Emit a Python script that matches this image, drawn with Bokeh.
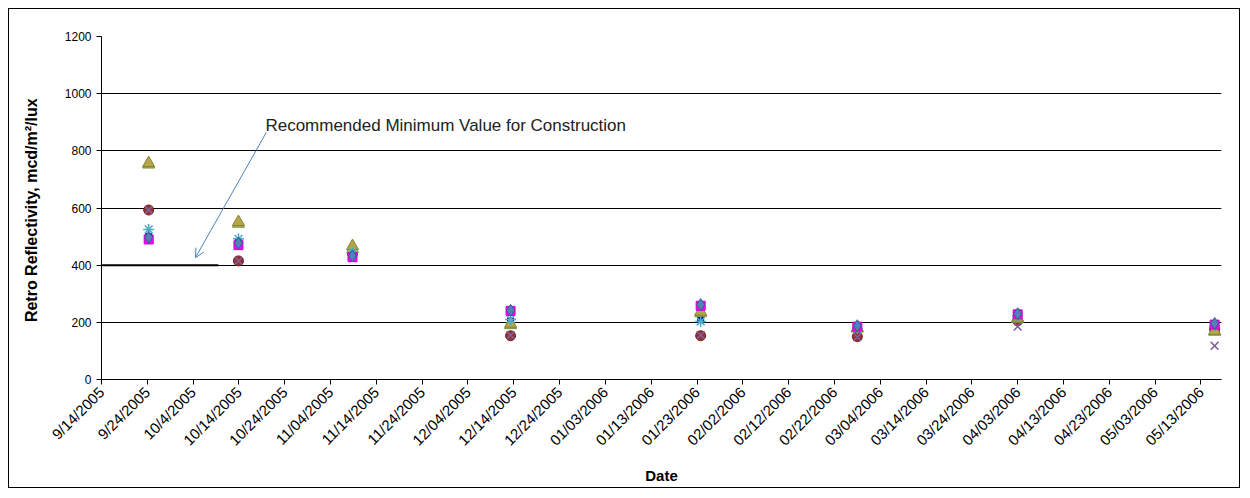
import math
from bokeh.plotting import figure
from bokeh.models import ColumnDataSource, FixedTicker, Arrow, OpenHead, Label, Range1d
from bokeh.embed import file_html
from bokeh.resources import INLINE

# ---- data ----
tick_labels = ["9/14/2005", "9/24/2005", "10/4/2005", "10/14/2005", "10/24/2005",
               "11/04/2005", "11/14/2005", "11/24/2005", "12/04/2005", "12/14/2005",
               "12/24/2005", "01/03/2006", "01/13/2006", "01/23/2006", "02/02/2006",
               "02/12/2006", "02/22/2006", "03/04/2006", "03/14/2006", "03/24/2006",
               "04/03/2006", "04/13/2006", "04/23/2006", "05/03/2006", "05/13/2006"]
# measurement days (days after 9/14/2005)
days = [10.3, 29.9, 54.8, 89.3, 130.8, 165.0, 200.0, 243.0]

navy_sq = [500, 480, 435, 205, 210, 188, 226, 194]
pink_sq = [490, 470, 428, 240, 258, 185, 228, 192]
olive_tri = [757, 551, 467, 195, 237, 181, 216, 170]
green_tri = [752, 545, 456, 190, 232, 178, 212, 167]
cyan_ast = [525, 492, 445, 210, 203, 178, 222, 188]
brown_circ = [593, 415, 440, 153, 153, 150, 205, 175]
purple_x = [593, 415, 425, 155, 155, 148, 185, 118]
blue_dia = [497, 477, 432, 242, 262, 188, 230, 196]

min_value = 400
min_line_days = [0, 25.5]
arrow_start = (36, 865)
arrow_end = (20.5, 426)
note_text = "Recommended Minimum Value for Construction"
x_title = "Date"
y_title = "Retro Reflectivity,  mcd/m²/lux"

FONT = "Liberation Sans"

p = figure(width=1232, height=480, output_backend="svg", toolbar_location=None,
           x_range=Range1d(0, 244.5), y_range=Range1d(0, 1200),
           min_border_left=92, min_border_right=20, min_border_top=27, min_border_bottom=110)
p.styles = {"border": "1px solid #000000", "margin-left": "8px", "margin-top": "8px"}
p.outline_line_color = None
p.background_fill_color = "white"

# axes
p.xaxis.ticker = FixedTicker(ticks=[i * 10 for i in range(len(tick_labels))])
p.xaxis.major_label_overrides = {i * 10: lab for i, lab in enumerate(tick_labels)}
p.xaxis.major_label_orientation = math.pi / 4
p.yaxis.ticker = FixedTicker(ticks=list(range(0, 1201, 200)))
for ax in (p.xaxis, p.yaxis):
    ax.axis_line_color = "black"
    ax.major_tick_line_color = "black"
    ax.major_tick_out = 5
    ax.major_tick_in = 0
    ax.minor_tick_line_color = None
    ax.major_label_text_font = FONT
    ax.major_label_text_color = "black"
    ax.axis_label_text_font = FONT
    ax.axis_label_text_font_style = "bold"
    ax.axis_label_text_color = "black"
p.xaxis.major_label_text_font_size = "15px"
p.yaxis.major_label_text_font_size = "12px"
p.xaxis.axis_label = x_title
p.yaxis.axis_label = y_title
p.xaxis.axis_label_text_font_size = "15px"
p.yaxis.axis_label_text_font_size = "16px"
p.xaxis.axis_label_standoff = 9
p.yaxis.axis_label_standoff = 22
p.xgrid.grid_line_color = None
p.ygrid.grid_line_color = "black"
p.ygrid.grid_line_width = 1

# minimum value line
p.line(min_line_days, [min_value, min_value], line_color="black", line_width=2)

src = ColumnDataSource(dict(d=days, navy=navy_sq, pink=pink_sq, olive=olive_tri, green=green_tri,
                            cyan=cyan_ast, brown=brown_circ, purple=purple_x, blue=blue_dia))

p.scatter("d", "navy", source=src, marker="square", size=6, fill_color="#000080", line_color="#000080")
p.scatter("d", "brown", source=src, marker="circle", size=10, fill_color="#993333", line_color="#6B2020")
p.scatter("d", "purple", source=src, marker="x", size=11, line_color="#7F5FA0", line_width=1.5)
p.scatter("d", "green", source=src, marker="triangle", size=12, fill_color="#9BBB59", line_color="#77933C")
p.scatter("d", "olive", source=src, marker="triangle", size=12, fill_color="#B3A64B", line_color="#8C8030")
p.scatter("d", "cyan", source=src, marker="asterisk", size=11, line_color="#4BACC6", line_width=1.5)
p.scatter("d", "pink", source=src, marker="square", size=9, fill_color="#FF00FF", line_color="#CC00CC")
p.scatter("d", "blue", source=src, marker="diamond", size=12, fill_color="#4F81BD", line_color="#385D8A")

# annotation arrow and note
p.add_layout(Arrow(end=OpenHead(size=9, line_color="#4F81BD", line_width=1),
                   x_start=arrow_start[0], y_start=arrow_start[1],
                   x_end=arrow_end[0], y_end=arrow_end[1],
                   line_color="#4F81BD", line_width=1))
p.add_layout(Label(x=arrow_start[0], y=arrow_start[1], text=note_text,
                   text_font=FONT, text_font_size="17px", text_color="#222222",
                   text_baseline="bottom", x_offset=-1, y_offset=-3))

open("out.html", "w").write(file_html(p, INLINE))
